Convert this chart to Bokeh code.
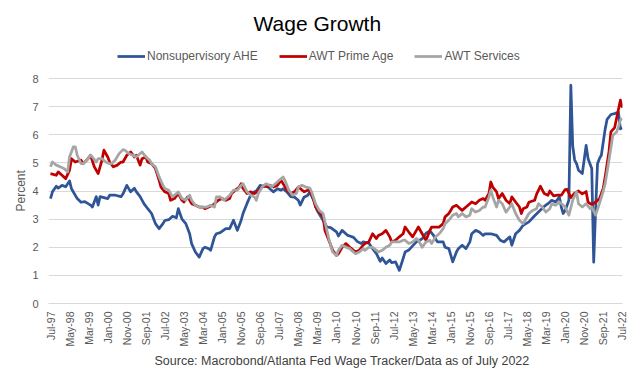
import math
import pandas as pd
from bokeh.plotting import figure
from bokeh.models import (FixedTicker, DatetimeTickFormatter, Legend, LegendItem,
                          Title, Range1d)
from bokeh.embed import file_html
from bokeh.resources import INLINE

# ---------------- data (months counted from Jul-1997) ----------------
START = "1997-07-01"

ahe_month = [0, 1, 3, 4, 6, 8, 10, 11, 14, 16, 18, 21, 22, 24, 25, 26, 30, 31, 34, 37,
             38, 40, 42, 44, 45, 47, 49, 51, 53, 55, 57, 59, 60, 62, 64, 66, 67, 69, 71, 73,
             74, 76, 78, 80, 81, 83, 84, 86, 87, 89, 92, 94, 96, 98, 100, 101, 103, 105, 107, 108,
             110, 112, 114, 115, 117, 119, 121, 122, 124, 126, 128, 130, 131, 133, 135, 136, 138, 140, 143, 145,
             147, 150, 151, 153, 156, 157, 159, 161, 163, 164, 167, 169, 171, 173, 174, 176, 178, 179, 181, 183,
             185, 186, 188, 190, 192, 195, 197, 199, 201, 203, 206, 207, 209, 211, 213, 214, 216, 218, 220, 221,
             223, 225, 227, 228, 231, 234, 236, 238, 241, 242, 244, 246, 248, 251, 254, 256, 259, 261, 263, 265,
             267, 268, 269, 270, 272, 273, 274, 275, 276, 277, 279, 281, 282, 284, 285, 286, 287, 288, 289, 291,
             292, 294, 296, 297, 298, 299, 300]
ahe_pct = [3.73, 3.97, 4.17, 4.10, 4.20, 4.15, 4.36, 4.08, 3.73, 3.60, 3.62, 3.50, 3.43, 3.80, 3.50, 3.80, 3.73, 3.85, 3.85, 3.80,
           3.90, 4.20, 3.97, 4.10, 3.98, 3.80, 3.55, 3.37, 3.20, 2.84, 2.66, 2.84, 2.95, 2.98, 3.10, 3.05, 3.37, 3.00, 2.84, 2.48,
           2.13, 1.83, 1.65, 1.95, 2.00, 1.95, 1.89, 2.37, 2.48, 2.52, 2.66, 2.66, 2.96, 2.60, 2.96, 3.20, 3.55, 3.85, 3.97, 4.00,
           4.20, 4.15, 4.20, 4.08, 3.97, 4.08, 4.03, 4.08, 3.97, 3.80, 3.78, 3.67, 3.50, 3.78, 3.85, 3.97, 3.67, 3.30, 2.96, 2.72,
           2.70, 2.55, 2.40, 2.60, 2.42, 2.40, 2.35, 2.20, 2.13, 2.19, 2.15, 1.95, 1.77, 1.50, 1.62, 1.42, 1.55, 1.45, 1.48, 1.18,
           1.60, 1.83, 1.90, 2.05, 2.19, 2.30, 2.50, 2.58, 2.42, 2.19, 2.19, 2.00, 1.95, 1.48, 1.83, 1.95, 2.07, 1.95, 2.19, 2.48,
           2.60, 2.54, 2.42, 2.48, 2.48, 2.42, 2.25, 2.19, 2.37, 2.07, 2.48, 2.60, 2.78, 2.90, 3.12, 3.25, 3.45, 3.55, 3.67, 3.61,
           3.79, 3.43, 3.20, 3.31, 3.67, 7.76, 5.60, 5.10, 4.97, 4.74, 4.62, 5.62, 5.15, 4.80, 1.47, 3.30, 4.97, 5.15, 5.27, 6.20,
           6.55, 6.72, 6.75, 6.78, 6.80, 6.21, 6.25]

prime_month = [0, 3, 4, 6, 8, 10, 11, 13, 16, 17, 19, 21, 23, 25, 27, 28, 30, 31, 33, 35,
               37, 38, 40, 42, 44, 45, 47, 48, 50, 51, 53, 55, 57, 58, 60, 62, 63, 65, 67, 69,
               70, 72, 74, 76, 78, 80, 81, 83, 85, 87, 88, 90, 92, 94, 95, 97, 99, 100, 101, 103,
               105, 107, 108, 110, 112, 114, 115, 117, 119, 121, 122, 124, 126, 128, 130, 131, 133, 135, 136, 138,
               139, 141, 143, 144, 146, 148, 150, 151, 153, 155, 157, 158, 160, 162, 164, 165, 167, 169, 171, 172,
               174, 176, 178, 179, 181, 183, 185, 186, 188, 190, 192, 193, 195, 197, 199, 200, 202, 204, 206, 207,
               209, 211, 213, 214, 216, 218, 220, 221, 223, 225, 227, 228, 230, 231, 232, 234, 235, 237, 239, 241,
               242, 244, 246, 247, 248, 250, 251, 254, 255, 257, 259, 261, 262, 264, 266, 268, 270, 271, 273, 275,
               277, 279, 281, 282, 284, 286, 288, 290, 291, 293, 294, 296, 297, 299, 300]
prime_pct = [4.62, 4.56, 4.68, 4.56, 4.44, 4.74, 5.15, 5.03, 5.10, 4.97, 5.10, 5.27, 4.86, 4.62, 5.10, 5.45, 5.21, 5.03, 4.86, 4.92,
             5.03, 5.03, 5.27, 5.39, 5.21, 5.27, 4.92, 5.15, 5.21, 5.03, 4.97, 4.80, 4.38, 4.14, 3.97, 3.91, 3.67, 3.73, 3.91, 3.67,
             3.61, 3.79, 3.55, 3.49, 3.43, 3.43, 3.37, 3.43, 3.49, 3.61, 3.67, 3.73, 3.67, 3.73, 3.91, 4.03, 4.14, 4.26, 4.09, 3.91,
             3.97, 3.91, 3.95, 4.09, 4.20, 4.14, 4.20, 4.14, 4.20, 4.38, 4.26, 4.03, 3.91, 3.97, 4.14, 4.09, 3.97, 4.03, 4.03, 3.70,
             3.43, 3.25, 3.10, 2.60, 2.25, 1.89, 1.71, 1.77, 2.00, 2.13, 2.00, 1.95, 1.83, 1.89, 2.07, 2.13, 2.19, 2.48, 2.31, 2.42,
             2.48, 2.60, 2.37, 2.19, 2.25, 2.37, 2.48, 2.72, 2.54, 2.37, 2.60, 2.72, 2.48, 2.25, 2.60, 2.72, 2.72, 2.72, 2.84, 3.08,
             3.20, 3.43, 3.49, 3.43, 3.31, 3.43, 3.55, 3.61, 3.55, 3.67, 3.73, 3.67, 3.91, 4.32, 4.14, 3.97, 3.73, 3.91, 3.67, 3.55,
             3.79, 3.61, 3.43, 3.20, 3.37, 3.43, 3.60, 3.67, 3.88, 4.17, 3.91, 3.85, 4.00, 3.83, 3.85, 3.85, 4.05, 4.06, 3.77, 3.92,
             4.00, 3.90, 3.98, 3.60, 3.52, 3.60, 3.72, 4.10, 4.50, 5.40, 6.10, 6.25, 6.58, 7.23, 6.96]

serv_month = [0, 1, 3, 5, 7, 9, 10, 12, 13, 14, 16, 17, 19, 21, 22, 24, 25, 27, 29, 31,
              32, 34, 36, 38, 39, 41, 43, 45, 46, 48, 50, 52, 53, 55, 57, 59, 60, 62, 64, 65,
              67, 69, 71, 73, 74, 76, 78, 80, 82, 84, 86, 87, 89, 91, 93, 94, 96, 98, 100, 101,
              103, 105, 107, 108, 109, 111, 113, 115, 116, 118, 120, 122, 123, 125, 127, 129, 130, 132, 134, 136,
              137, 139, 141, 143, 144, 146, 148, 150, 151, 153, 155, 157, 158, 160, 162, 164, 165, 167, 169, 171,
              172, 174, 176, 178, 179, 181, 183, 185, 186, 188, 190, 192, 193, 195, 197, 199, 200, 202, 204, 206,
              207, 209, 211, 213, 214, 216, 218, 220, 221, 223, 225, 227, 228, 230, 231, 232, 234, 235, 237, 239,
              241, 242, 244, 246, 248, 249, 251, 253, 255, 256, 258, 260, 262, 263, 265, 267, 269, 270, 272, 274,
              276, 277, 279, 281, 283, 284, 286, 288, 290, 291, 293, 295, 297, 298, 299, 300]
serv_pct = [4.86, 5.03, 4.92, 4.86, 4.80, 4.68, 5.21, 5.57, 5.57, 5.27, 4.97, 4.97, 5.10, 5.27, 5.21, 5.03, 5.15, 5.15, 5.03, 4.97,
            4.97, 5.10, 5.33, 5.47, 5.45, 5.33, 5.27, 5.21, 5.27, 5.39, 5.21, 5.10, 4.97, 4.86, 4.50, 4.20, 4.09, 4.03, 3.79, 3.85,
            3.97, 3.73, 3.67, 3.85, 3.67, 3.49, 3.43, 3.43, 3.43, 3.49, 3.43, 3.79, 3.79, 3.67, 3.79, 3.85, 4.03, 4.03, 4.20, 4.26,
            3.97, 3.85, 3.79, 3.67, 3.91, 4.14, 4.26, 4.20, 4.14, 4.26, 4.38, 4.50, 4.38, 4.03, 3.85, 3.91, 4.14, 4.20, 4.14, 4.10,
            3.97, 3.55, 3.31, 3.20, 2.90, 2.30, 1.83, 1.71, 1.89, 2.07, 2.00, 1.95, 1.89, 1.77, 1.83, 1.95, 1.89, 2.00, 2.00, 1.89,
            1.83, 1.89, 2.00, 2.07, 2.19, 2.19, 2.19, 2.25, 2.25, 2.13, 2.19, 2.31, 2.25, 2.00, 2.19, 2.25, 2.13, 2.37, 2.48, 2.66,
            2.84, 2.96, 3.14, 3.20, 3.08, 3.20, 3.08, 3.14, 3.37, 3.25, 3.31, 3.43, 3.43, 3.79, 4.03, 3.79, 3.43, 3.67, 3.55, 3.25,
            3.43, 3.55, 3.20, 2.96, 2.84, 2.96, 3.20, 3.31, 3.37, 3.55, 3.43, 3.25, 3.37, 3.55, 3.49, 3.61, 3.49, 3.43, 3.14, 3.67,
            3.97, 3.55, 3.43, 3.55, 3.37, 3.43, 3.14, 3.55, 4.00, 4.26, 5.10, 5.98, 6.10, 6.28, 6.52, 6.58]

tick_labels = ["Jul-97", "May-98", "Mar-99", "Jan-00", "Nov-00", "Sep-01", "Jul-02", "May-03",
               "Mar-04", "Jan-05", "Nov-05", "Sep-06", "Jul-07", "May-08", "Mar-09", "Jan-10",
               "Nov-10", "Sep-11", "Jul-12", "May-13", "Mar-14", "Jan-15", "Nov-15", "Sep-16",
               "Jul-17", "May-18", "Mar-19", "Jan-20", "Nov-20", "Sep-21", "Jul-22"]
y_ticks = [0, 1, 2, 3, 4, 5, 6, 7, 8]

# ---------------- helpers ----------------
start = pd.Timestamp(START)


def to_dates(months):
    return [start + pd.DateOffset(months=int(m)) for m in months]


tick_ms = [int(pd.to_datetime(t, format="%b-%y").value // 10**6) for t in tick_labels]

FONT = "Liberation Sans"
GREY_TXT = "#595959"

# frame spans 40..303 px vertically; value 8 sits at 78 px, leaving room for the legend
Y_TOP = 8 + 38 / 28.125

p = figure(width=633, height=372, x_axis_type="datetime",
           output_backend="svg", toolbar_location=None, title=None,
           x_range=Range1d(start - pd.Timedelta(days=32), pd.Timestamp("2022-07-05")),
           y_range=Range1d(0, Y_TOP),
           min_border_left=48, min_border_right=11,
           min_border_top=40, min_border_bottom=69)
p.outline_line_color = None
p.background_fill_color = "white"
p.border_fill_color = "white"

r_ahe = p.line(to_dates(ahe_month), ahe_pct, line_color="#2F5597", line_width=2.75, line_join="round")
r_prime = p.line(to_dates(prime_month), prime_pct, line_color="#C00000", line_width=2.75, line_join="round")
r_serv = p.line(to_dates(serv_month), serv_pct, line_color="#A5A5A5", line_width=2.75, line_join="round")

# axes
p.xgrid.visible = False
p.ygrid.grid_line_color = "#D9D9D9"
p.ygrid.grid_line_width = 1

p.yaxis.ticker = FixedTicker(ticks=y_ticks)
p.yaxis.axis_line_color = None
p.yaxis.major_tick_line_color = None
p.yaxis.minor_tick_line_color = None
p.yaxis.major_tick_out = 0
p.yaxis.major_tick_in = 0
p.yaxis.minor_tick_out = 0
p.yaxis.major_label_standoff = 10
p.yaxis.major_label_text_font = FONT
p.yaxis.major_label_text_font_size = "11px"
p.yaxis.major_label_text_color = GREY_TXT

fmt = "%b-%y"
p.xaxis.ticker = FixedTicker(ticks=tick_ms)
p.xaxis.formatter = DatetimeTickFormatter(milliseconds=fmt, seconds=fmt, minsec=fmt, minutes=fmt,
                                          hourmin=fmt, hours=fmt, days=fmt, months=fmt, years=fmt)
p.xaxis.axis_line_color = "#D9D9D9"
p.xaxis.major_tick_line_color = None
p.xaxis.minor_tick_line_color = None
p.xaxis.major_tick_out = 0
p.xaxis.major_tick_in = 0
p.xaxis.minor_tick_out = 0
p.xaxis.major_label_orientation = math.pi / 2
p.xaxis.major_label_standoff = 8
p.xaxis.major_label_text_font = FONT
p.xaxis.major_label_text_font_size = "10.5px"
p.xaxis.major_label_text_color = GREY_TXT

# legend (inside the top band of the frame)
legend = Legend(items=[LegendItem(label="Nonsupervisory AHE", renderers=[r_ahe]),
                       LegendItem(label="AWT Prime Age", renderers=[r_prime]),
                       LegendItem(label="AWT Services", renderers=[r_serv])],
                orientation="horizontal", location=(69, 240),
                padding=0, margin=0, spacing=21,
                glyph_width=28, glyph_height=14, label_height=14, label_standoff=2,
                label_text_font=FONT, label_text_font_size="12px", label_text_color=GREY_TXT,
                border_line_color=None, background_fill_alpha=0)
p.add_layout(legend, "center")

# title, y-axis caption and source
p.add_layout(Title(text="Wage Growth", align="left", offset=205, vertical_align="bottom", standoff=12,
                   text_font=FONT, text_font_size="21px", text_font_style="normal",
                   text_color="#000000"), "above")
p.add_layout(Title(text="Percent", align="left", offset=92, vertical_align="bottom", standoff=4,
                   text_font=FONT, text_font_size="12px", text_font_style="normal",
                   text_color=GREY_TXT), "left")
p.add_layout(Title(text="Source: Macrobond/Atlanta Fed Wage Tracker/Data as of July 2022",
                   align="left", offset=106, vertical_align="bottom", standoff=5,
                   text_font=FONT, text_font_size="12.5px", text_font_style="normal",
                   text_color="#404040"), "below")

open("out.html", "w").write(file_html(p, INLINE))
